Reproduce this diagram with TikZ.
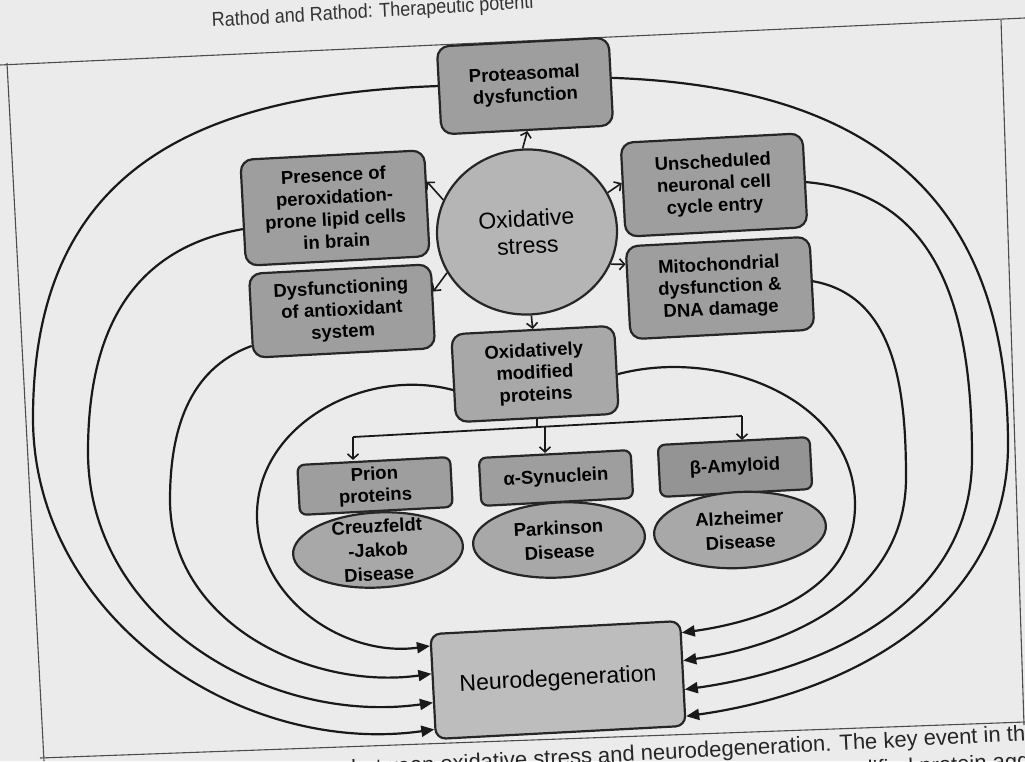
\documentclass[tikz,border=0pt]{standalone}
\usepackage{fontspec}
\setmainfont{Liberation Sans}
\usetikzlibrary{shapes.geometric,arrows.meta,calc}
\definecolor{pagebg}{gray}{0.92}
\definecolor{boxgray}{gray}{0.62}
\definecolor{circgray}{gray}{0.71}
\definecolor{ompgray}{gray}{0.66}
\definecolor{ellgray}{gray}{0.66}
\definecolor{amygray}{gray}{0.58}
\definecolor{ndgray}{gray}{0.74}
\begin{document}
\begin{tikzpicture}[x=1pt,y=1pt,
  box/.style={draw=black!85, line width=2.2pt, rounded corners=12pt, fill=boxgray, align=center, inner sep=0pt, font=\bfseries\fontsize{18.5}{22}\selectfont, rotate=3},
  sbox/.style={box, rounded corners=7pt},
  oval/.style={ellipse, draw=black!85, line width=2.2pt, fill=ellgray, inner sep=0pt, rotate=3},
  lbl/.style={align=center, inner sep=0pt, font=\bfseries\fontsize{18.5}{24}\selectfont, rotate=3},
  ring/.style={line width=2.2pt, draw=black!90},
  ndtip/.style={ring, -{Triangle[length=13pt,width=11pt]}},
  sarr/.style={line width=1.6pt, draw=black!90, -{Straight Barb[length=5pt,width=11pt]}},
  frameline/.style={line width=1.1pt, draw=black!70},
  pagetext/.style={font=\fontsize{22}{24}\selectfont, rotate=3, text=black!85, inner sep=0pt}
]
\useasboundingbox (0,0) rectangle (1025,-761);
\clip (0,0) rectangle (1025,-761);
\fill[pagebg] (0,0) rectangle (1025,-761);

% page frame
\draw[frameline] (0,-65) -- (1025,-18);
\draw[frameline] (7,-63) -- (44,-761);
\draw[frameline] (1001,-20) -- (1024,-725);
\draw[frameline] (40,-758) -- (1025,-722);

% header and caption
\node[font=\fontsize{20}{22}\selectfont, xscale=0.9, rotate=3, anchor=base west, text=black!80, inner sep=0pt] (hdr) at (212,-27) {Rathod and Rathod: Therapeutic potenti};
\node[pagetext, anchor=base east] (cap1) at (1038,-740) {between oxidative stress and neurodegeneration. The key event in the};
\node[pagetext, anchor=base east] (cap2) at (1030,-768) {modified protein agg};

% nodes
\node[box, minimum width=172pt, minimum height=88pt] (pd) at (525,-86) {Proteasomal\\dysfunction};
\node[ellipse, draw=black!85, line width=2.2pt, fill=circgray, minimum width=180pt, minimum height=165pt, inner sep=0pt, align=center, font=\fontsize{23}{27}\selectfont, rotate=3] (os) at (527,-232) {Oxidative\\stress};
\node[box, minimum width=184pt, minimum height=106pt] (pres) at (335,-208) {Presence of\\peroxidation-\\prone lipid cells\\in brain};
\node[box, minimum width=182pt, minimum height=84pt] (dys) at (342,-311) {Dysfunctioning\\of antioxidant\\system};
\node[box, minimum width=182pt, minimum height=94pt] (uns) at (714,-185) {Unscheduled\\neuronal cell\\cycle entry};
\node[box, minimum width=184pt, minimum height=93pt] (mito) at (720,-288) {Mitochondrial\\dysfunction \&\\DNA damage};
\node[box, fill=ompgray, minimum width=163pt, minimum height=88pt] (omp) at (535,-374) {Oxidatively\\modified\\proteins};

\node[sbox, minimum width=153pt, minimum height=50pt] (prion) at (375,-486) {Prion\\proteins};
\node[sbox, minimum width=152pt, minimum height=48pt] (syn) at (556,-478) {α-Synuclein};
\node[sbox, fill=amygray, minimum width=152pt, minimum height=52pt] (amy) at (735,-467) {β-Amyloid};

\node[oval, minimum width=170pt, minimum height=75pt] (cjd) at (378,-550) {};
\node[lbl] (cjdt) at (cjd.center) {Creuzfeldt\\-Jakob\\Disease};
\node[oval, minimum width=172pt, minimum height=75pt] (pkd) at (559,-540) {};
\node[lbl] (pkdt) at (pkd.center) {Parkinson\\Disease};
\node[oval, minimum width=172pt, minimum height=76pt] (ad) at (740,-530) {};
\node[lbl] (adt) at (ad.center) {Alzheimer\\Disease};

\node[box, fill=ndgray, minimum width=250pt, minimum height=105pt, rounded corners=10pt, font=\fontsize{23}{27}\selectfont] (nd) at (558,-680) {Neurodegeneration};

% arrows from oxidative stress
\draw[sarr] (os.north) -- (pd.south);
\draw[sarr] (os.south) -- (omp.north);
\draw[sarr] (os.156) -- ($(pres.north east)!0.3!(pres.south east)$);
\draw[sarr] (os.204) -- ($(dys.north east)!0.33!(dys.south east)$);
\draw[sarr] (os.23) -- ($(uns.north west)!0.43!(uns.south west)$);
\draw[sarr] (os.336) -- ($(mito.north west)!0.2!(mito.south west)$);

% distribution from oxidatively modified proteins
\coordinate (bA) at (353,-437);
\coordinate (bB) at (545,-427);
\coordinate (bC) at (742,-416);
\draw[ring, line width=1.8pt] (omp.south) -- (omp.south |- bB);
\draw[ring, line width=1.8pt] (bA) -- (bC);
\draw[sarr] (bA) -- (bA |- prion.north);
\draw[sarr] (bB) -- (bB |- syn.north);
\draw[sarr] (bC) -- (bC |- amy.north);

% ring start points
\coordinate (pdW) at ($(pd.north west)!0.45!(pd.south west)$);
\coordinate (pdE) at ($(pd.north east)!0.46!(pd.south east)$);
\coordinate (presW) at ($(pres.north west)!0.65!(pres.south west)$);
\coordinate (dysW) at ($(dys.north west)!0.85!(dys.south west)$);
\coordinate (ompW) at ($(omp.north west)!0.63!(omp.south west)$);
\coordinate (unsE) at ($(uns.north east)!0.52!(uns.south east)$);
\coordinate (mitoE) at ($(mito.north east)!0.48!(mito.south east)$);
\coordinate (ompE) at ($(omp.north east)!0.55!(omp.south east)$);
\foreach \i/\f in {1/0.12,2/0.38,3/0.65,4/0.9} {
  \coordinate (ndL\i) at ($(nd.north west)!\f!(nd.south west)$);
  \coordinate (ndR\i) at ($(nd.north east)!\f!(nd.south east)$);
}
% extreme points
\coordinate (L1) at (33,-418);
\coordinate (L2) at (88,-452);
\coordinate (L3) at (170,-500);
\coordinate (L4) at (257,-515);
\coordinate (R1) at (1008,-445);
\coordinate (R2) at (972,-458);
\coordinate (R3) at (906,-478);
\coordinate (R4) at (855,-505);

% rings into neurodegeneration
\draw[ndtip] (pdW) to[out=182,in=90,looseness=1.2] (L1) to[out=270,in=188] (ndL4);
\draw[ndtip] (presW) to[out=190,in=90,looseness=1.1] (L2) to[out=270,in=188] (ndL3);
\draw[ndtip] (dysW) to[out=200,in=90] (L3) to[out=270,in=188] (ndL2);
\draw[ndtip] (ompW) to[out=165,in=90] (L4) to[out=270,in=188] (ndL1);
\draw[ndtip] (pdE) to[out=-2,in=90,looseness=1.2] (R1) to[out=270,in=8] (ndR4);
\draw[ndtip] (unsE) to[out=-5,in=90,looseness=1.1] (R2) to[out=270,in=8] (ndR3);
\draw[ndtip] (mitoE) to[out=-10,in=90] (R3) to[out=270,in=8] (ndR2);
\draw[ndtip] (ompE) to[out=15,in=90] (R4) to[out=270,in=8] (ndR1);
\end{tikzpicture}
\end{document}
